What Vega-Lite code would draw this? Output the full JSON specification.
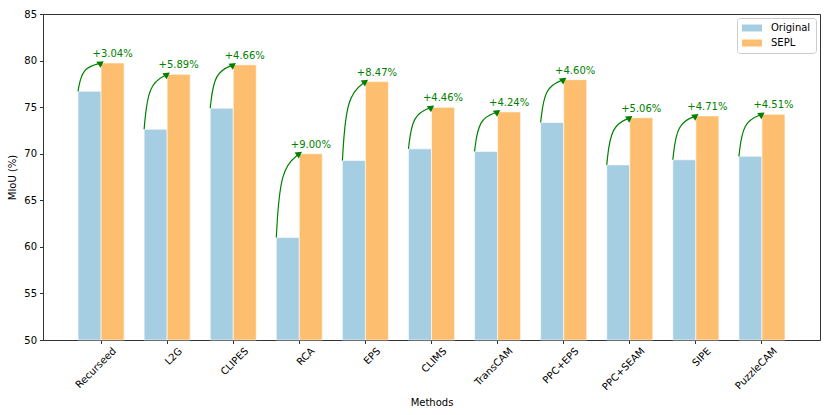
{
  "$schema": "https://vega.github.io/schema/vega-lite/v6.json",
  "autosize": "none",
  "width": 777,
  "height": 326,
  "padding": {"left": 43, "top": 14, "right": 10, "bottom": 75},
  "datasets": {
    "bars": [
      {"Method": "Recurseed", "Series": "Original", "MIoU": 76.7},
      {"Method": "Recurseed", "Series": "SEPL", "MIoU": 79.74},
      {"Method": "L2G", "Series": "Original", "MIoU": 72.63},
      {"Method": "L2G", "Series": "SEPL", "MIoU": 78.52},
      {"Method": "CLIPES", "Series": "Original", "MIoU": 74.88},
      {"Method": "CLIPES", "Series": "SEPL", "MIoU": 79.54},
      {"Method": "RCA", "Series": "Original", "MIoU": 61.0},
      {"Method": "RCA", "Series": "SEPL", "MIoU": 70.0},
      {"Method": "EPS", "Series": "Original", "MIoU": 69.27},
      {"Method": "EPS", "Series": "SEPL", "MIoU": 77.74},
      {"Method": "CLIMS", "Series": "Original", "MIoU": 70.52},
      {"Method": "CLIMS", "Series": "SEPL", "MIoU": 74.98},
      {"Method": "TransCAM", "Series": "Original", "MIoU": 70.25},
      {"Method": "TransCAM", "Series": "SEPL", "MIoU": 74.49},
      {"Method": "PPC+EPS", "Series": "Original", "MIoU": 73.35},
      {"Method": "PPC+EPS", "Series": "SEPL", "MIoU": 77.95},
      {"Method": "PPC+SEAM", "Series": "Original", "MIoU": 68.8},
      {"Method": "PPC+SEAM", "Series": "SEPL", "MIoU": 73.86},
      {"Method": "SIPE", "Series": "Original", "MIoU": 69.35},
      {"Method": "SIPE", "Series": "SEPL", "MIoU": 74.06},
      {"Method": "PuzzleCAM", "Series": "Original", "MIoU": 69.72},
      {"Method": "PuzzleCAM", "Series": "SEPL", "MIoU": 74.23}
    ],
    "gains": [
      {"Method": "Recurseed", "SEPL": 79.74, "Gain": "+3.04%"},
      {"Method": "L2G", "SEPL": 78.52, "Gain": "+5.89%"},
      {"Method": "CLIPES", "SEPL": 79.54, "Gain": "+4.66%"},
      {"Method": "RCA", "SEPL": 70.0, "Gain": "+9.00%"},
      {"Method": "EPS", "SEPL": 77.74, "Gain": "+8.47%"},
      {"Method": "CLIMS", "SEPL": 74.98, "Gain": "+4.46%"},
      {"Method": "TransCAM", "SEPL": 74.49, "Gain": "+4.24%"},
      {"Method": "PPC+EPS", "SEPL": 77.95, "Gain": "+4.60%"},
      {"Method": "PPC+SEAM", "SEPL": 73.86, "Gain": "+5.06%"},
      {"Method": "SIPE", "SEPL": 74.06, "Gain": "+4.71%"},
      {"Method": "PuzzleCAM", "SEPL": 74.23, "Gain": "+4.51%"}
    ],
    "arrows": [
      {"Method": "Recurseed", "At": "Original", "Step": 1, "MIoU": 76.7},
      {"Method": "Recurseed", "At": "Original", "Step": 2, "MIoU": 79.74},
      {"Method": "Recurseed", "At": "SEPL", "Step": 3, "MIoU": 79.74},
      {"Method": "L2G", "At": "Original", "Step": 1, "MIoU": 72.63},
      {"Method": "L2G", "At": "Original", "Step": 2, "MIoU": 78.52},
      {"Method": "L2G", "At": "SEPL", "Step": 3, "MIoU": 78.52},
      {"Method": "CLIPES", "At": "Original", "Step": 1, "MIoU": 74.88},
      {"Method": "CLIPES", "At": "Original", "Step": 2, "MIoU": 79.54},
      {"Method": "CLIPES", "At": "SEPL", "Step": 3, "MIoU": 79.54},
      {"Method": "RCA", "At": "Original", "Step": 1, "MIoU": 61.0},
      {"Method": "RCA", "At": "Original", "Step": 2, "MIoU": 70.0},
      {"Method": "RCA", "At": "SEPL", "Step": 3, "MIoU": 70.0},
      {"Method": "EPS", "At": "Original", "Step": 1, "MIoU": 69.27},
      {"Method": "EPS", "At": "Original", "Step": 2, "MIoU": 77.74},
      {"Method": "EPS", "At": "SEPL", "Step": 3, "MIoU": 77.74},
      {"Method": "CLIMS", "At": "Original", "Step": 1, "MIoU": 70.52},
      {"Method": "CLIMS", "At": "Original", "Step": 2, "MIoU": 74.98},
      {"Method": "CLIMS", "At": "SEPL", "Step": 3, "MIoU": 74.98},
      {"Method": "TransCAM", "At": "Original", "Step": 1, "MIoU": 70.25},
      {"Method": "TransCAM", "At": "Original", "Step": 2, "MIoU": 74.49},
      {"Method": "TransCAM", "At": "SEPL", "Step": 3, "MIoU": 74.49},
      {"Method": "PPC+EPS", "At": "Original", "Step": 1, "MIoU": 73.35},
      {"Method": "PPC+EPS", "At": "Original", "Step": 2, "MIoU": 77.95},
      {"Method": "PPC+EPS", "At": "SEPL", "Step": 3, "MIoU": 77.95},
      {"Method": "PPC+SEAM", "At": "Original", "Step": 1, "MIoU": 68.8},
      {"Method": "PPC+SEAM", "At": "Original", "Step": 2, "MIoU": 73.86},
      {"Method": "PPC+SEAM", "At": "SEPL", "Step": 3, "MIoU": 73.86},
      {"Method": "SIPE", "At": "Original", "Step": 1, "MIoU": 69.35},
      {"Method": "SIPE", "At": "Original", "Step": 2, "MIoU": 74.06},
      {"Method": "SIPE", "At": "SEPL", "Step": 3, "MIoU": 74.06},
      {"Method": "PuzzleCAM", "At": "Original", "Step": 1, "MIoU": 69.72},
      {"Method": "PuzzleCAM", "At": "Original", "Step": 2, "MIoU": 74.23},
      {"Method": "PuzzleCAM", "At": "SEPL", "Step": 3, "MIoU": 74.23}
    ]
  },
  "layer": [
    {
      "data": {"name": "bars"},
      "mark": {"type": "bar", "stroke": "white", "strokeWidth": 0.6},
      "encoding": {
        "x": {
          "field": "Method",
          "type": "nominal",
          "sort": null,
          "title": "Methods",
          "scale": {
            "domain": ["Recurseed", "L2G", "CLIPES", "RCA", "EPS", "CLIMS", "TransCAM", "PPC+EPS", "PPC+SEAM", "SIPE", "PuzzleCAM"],
            "paddingInner": 0.303,
            "paddingOuter": 0.53
          },
          "axis": {
            "labelAngle": -45,
            "labelAlign": "right",
            "labelBaseline": "top",
            "labelOffset": 10,
            "labelPadding": 2,
            "tickSize": 3.5,
            "titlePadding": 6
          }
        },
        "xOffset": {
          "field": "Series",
          "type": "nominal",
          "scale": {"domain": ["Original", "SEPL"], "paddingInner": 0, "paddingOuter": 0}
        },
        "y": {
          "field": "MIoU",
          "type": "quantitative",
          "title": "MIoU (%)",
          "scale": {"domain": [50, 85], "zero": false, "nice": false},
          "axis": {"values": [50, 55, 60, 65, 70, 75, 80, 85], "tickSize": 3.5, "labelPadding": 3, "titlePadding": 6}
        },
        "y2": {"datum": 50},
        "color": {
          "field": "Series",
          "type": "nominal",
          "title": null,
          "scale": {"domain": ["Original", "SEPL"], "range": ["#a6cee3", "#fdbf6f"]},
          "legend": {
            "orient": "top-right",
            "offset": 4,
            "padding": 5,
            "strokeColor": "#cccccc",
            "fillColor": "white",
            "cornerRadius": 3,
            "symbolType": "M-2,-0.7L2,-0.7L2,0.7L-2,0.7Z",
            "symbolSize": 100,
            "symbolStrokeWidth": 0,
            "symbolOffset": 5,
            "labelOffset": 14,
            "labelFontSize": 10,
            "rowPadding": 5
          }
        }
      }
    },
    {
      "data": {"name": "gains"},
      "mark": {"type": "text", "color": "#008000", "fontSize": 10, "baseline": "bottom", "dy": -4},
      "encoding": {
        "x": {"field": "Method", "type": "nominal", "sort": null, "title": "Methods"},
        "xOffset": {
          "datum": "SEPL",
          "scale": {"type": "point", "domain": ["Original", "SEPL"], "padding": 0.5}
        },
        "y": {"field": "SEPL", "type": "quantitative", "title": "MIoU (%)"},
        "text": {"field": "Gain"}
      }
    },
    {
      "data": {"name": "arrows"},
      "mark": {"type": "line", "color": "#008000", "strokeWidth": 1.2, "interpolate": "bundle", "tension": 0.65},
      "encoding": {
        "x": {"field": "Method", "type": "nominal", "sort": null, "title": "Methods"},
        "xOffset": {
          "field": "At",
          "type": "nominal",
          "scale": {"type": "point", "domain": ["Original", "SEPL", "End"], "padding": 0}
        },
        "y": {"field": "MIoU", "type": "quantitative", "title": "MIoU (%)"},
        "detail": {"field": "Method"},
        "order": {"field": "Step"}
      }
    },
    {
      "data": {"name": "arrows"},
      "transform": [{"filter": "datum.Step == 3"}],
      "mark": {"type": "point", "shape": "triangle-right", "filled": true, "color": "#008000", "opacity": 1, "size": 55, "angle": -35},
      "encoding": {
        "x": {"field": "Method", "type": "nominal", "sort": null, "title": "Methods"},
        "xOffset": {
          "field": "At",
          "type": "nominal",
          "scale": {"type": "point", "domain": ["Original", "SEPL", "End"], "padding": 0}
        },
        "y": {"field": "MIoU", "type": "quantitative", "title": "MIoU (%)"}
      }
    }
  ],
  "resolve": {"scale": {"xOffset": "independent"}},
  "config": {
    "font": "DejaVu Sans",
    "view": {"stroke": "#333333", "strokeWidth": 1},
    "axis": {
      "grid": false,
      "domainColor": "#333333",
      "tickColor": "#333333",
      "labelColor": "#000000",
      "titleColor": "#000000",
      "labelFontSize": 10,
      "titleFontSize": 10,
      "titleFontWeight": "normal",
      "labelFont": "DejaVu Sans",
      "titleFont": "DejaVu Sans"
    },
    "legend": {"labelFont": "DejaVu Sans", "labelColor": "#000000"}
  }
}
